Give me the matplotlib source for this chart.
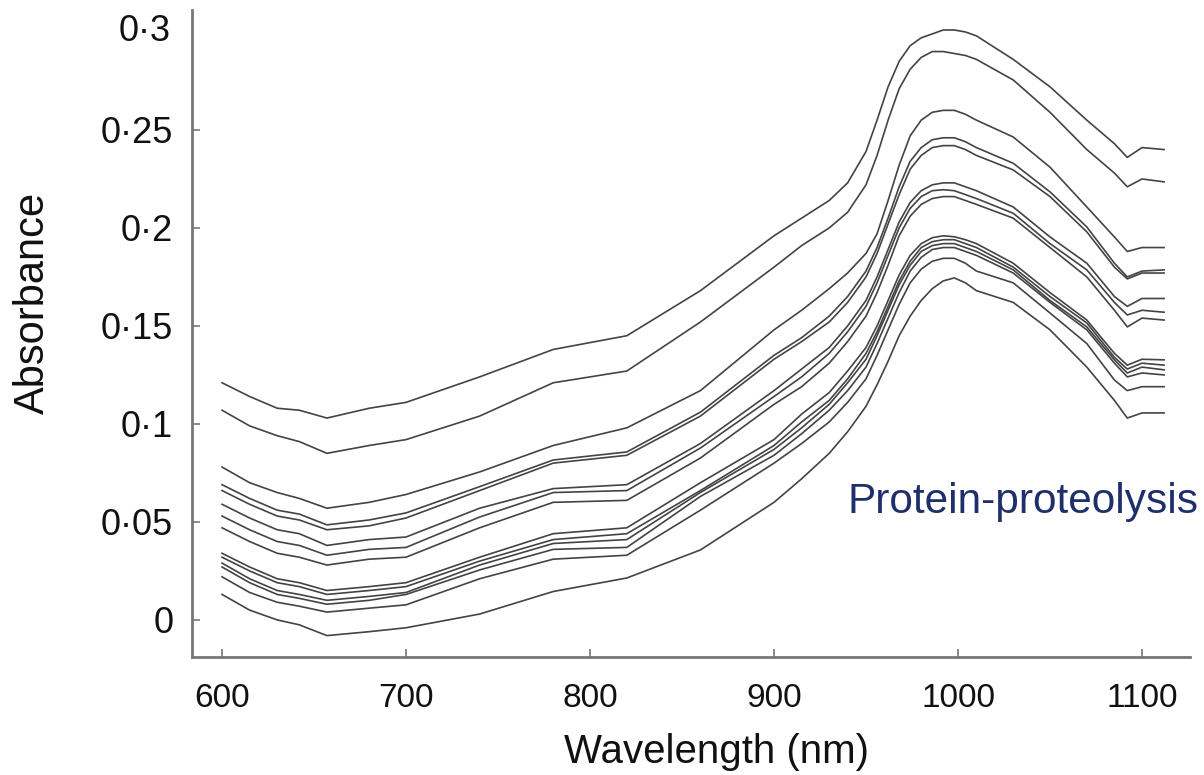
import matplotlib
matplotlib.use("Agg")
import matplotlib.pyplot as plt

plt.rcParams["font.family"] = ["Liberation Sans", "DejaVu Sans"]

# Wavelength grid (nm) at which each spectrum is sampled
wavelength = [600, 615, 630, 642, 657, 680, 700, 740, 780, 820, 860, 900, 915, 930,
              940, 950, 956, 962, 968, 974, 980, 986, 992, 998, 1004, 1010,
              1030, 1050, 1070, 1085, 1092, 1100, 1112]

# Absorbance spectra, top to bottom at 600 nm
s01 = [.121, .114, .108, .107, .103, .108, .111, .124, .138, .145, .168, .196, .205, .214,
       .223, .239, .255, .272, .285, .293, .297, .299, .301, .301, .300, .298,
       .286, .272, .255, .243, .236, .241, .240]
s02 = [.107, .099, .094, .091, .085, .089, .092, .104, .121, .127, .152, .180, .191, .200,
       .208, .222, .237, .255, .271, .281, .287, .290, .290, .289, .288, .286,
       .2755, .259, .240, .228, .221, .225, .2235]
s03 = [.078, .070, .065, .062, .057, .060, .064, .0755, .089, .098, .117, .148, .158, .169,
       .177, .187, .197, .214, .232, .247, .255, .259, .260, .260, .258, .255,
       .2464, .231, .2107, .1954, .188, .190, .190]
s04 = [.069, .062, .056, .054, .0485, .051, .0546, .068, .0816, .0857, .106, .135, .144, .155,
       .165, .178, .190, .205, .221, .234, .241, .245, .246, .246, .244, .241,
       .233, .2184, .2005, .182, .175, .178, .1786]
s05 = [.066, .059, .053, .051, .046, .048, .052, .066, .080, .084, .104, .133, .142, .152,
       .162, .175, .187, .202, .217, .230, .237, .241, .242, .242, .240, .237,
       .2296, .216, .198, .180, .174, .177, .177]
s06 = [.059, .052, .046, .044, .038, .041, .0423, .057, .067, .069, .090, .117, .128, .139,
       .150, .163, .175, .189, .203, .213, .219, .222, .223, .223, .221, .219,
       .2107, .1954, .182, .165, .160, .164, .164]
s07 = [.053, .046, .040, .038, .033, .036, .037, .0525, .065, .066, .0877, .114, .124, .136,
       .147, .160, .172, .186, .200, .210, .216, .219, .2195, .219, .217, .215,
       .2075, .192, .1786, .162, .1556, .158, .157]
s08 = [.047, .040, .034, .032, .028, .031, .032, .047, .060, .061, .0826, .110, .119, .131,
       .142, .155, .167, .181, .196, .206, .212, .215, .216, .216, .214, .212,
       .205, .190, .175, .158, .1495, .154, .153]
s09 = [.034, .027, .021, .019, .015, .017, .019, .032, .044, .047, .070, .092, .105, .116,
       .127, .139, .150, .163, .176, .186, .192, .195, .196, .1955, .194, .192,
       .182, .167, .153, .136, .130, .133, .1327]
s10 = [.032, .025, .019, .017, .013, .015, .017, .030, .041, .044, .066, .089, .101, .112,
       .123, .136, .147, .160, .173, .183, .190, .193, .194, .194, .192, .190,
       .180, .165, .1515, .134, .128, .131, .130]
s11 = [.029, .021, .015, .013, .010, .012, .014, .028, .039, .041, .065, .087, .098, .110,
       .121, .133, .145, .158, .171, .181, .188, .191, .192, .192, .190, .188,
       .1786, .163, .1495, .1327, .126, .129, .1276]
s12 = [.027, .019, .013, .011, .008, .010, .013, .0255, .036, .037, .063, .084, .095, .107,
       .117, .129, .141, .154, .167, .178, .185, .189, .190, .190, .188, .186,
       .177, .162, .148, .131, .124, .126, .125]
s13 = [.022, .014, .009, .007, .004, .006, .0077, .021, .031, .033, .056, .080, .090, .101,
       .111, .123, .135, .148, .161, .172, .179, .183, .1845, .1845, .182, .178,
       .172, .1566, .141, .1224, .117, .119, .119]
s14 = [.013, .005, .000, -.0025, -.008, -.006, -.004, .003, .0145, .0214, .0357, .060, .072, .085,
       .096, .109, .120, .132, .145, .155, .163, .169, .173, .1745, .172, .168,
       .162, .148, .129, .112, .103, .1056, .1056]

spectra = [s01, s02, s03, s04, s05, s06, s07, s08, s09, s10, s11, s12, s13, s14]

x_ticks = [600, 700, 800, 900, 1000, 1100]
y_ticks = [0, 0.05, 0.1, 0.15, 0.2, 0.25]
y_tick_labels = ["0", "0·05", "0·1", "0·15", "0·2", "0·25"]

fig = plt.figure(figsize=(12.04, 7.75), dpi=100)
ax = fig.add_axes([0.1595, 0.1523, 0.8289, 0.8348])

for spec in spectra:
    ax.plot(wavelength, spec, color="#2f2f2f", linewidth=1.2, alpha=0.9,
            solid_joinstyle="round")

ax.set_xlim(583.7, 1126.1)
ax.set_ylim(-0.0189, 0.3112)

ax.set_xticks(x_ticks)
ax.set_xticklabels([str(t) for t in x_ticks])
ax.set_yticks(y_ticks)
ax.set_yticklabels(y_tick_labels)
# top label without a tick mark
ax.text(-0.0217, 0.3, "0·3", transform=ax.get_yaxis_transform(),
        ha="right", va="center", fontsize=26, color="#111111")

for side in ("top", "right"):
    ax.spines[side].set_visible(False)
for side in ("left", "bottom"):
    ax.spines[side].set_color("#777777")
    ax.spines[side].set_linewidth(2.0)

ax.tick_params(direction="in", length=6, width=1.2, color="#777777",
               labelcolor="#111111")
ax.tick_params(axis="x", labelsize=24, pad=18.5)
ax.tick_params(axis="y", labelsize=26, pad=13.6)

ax.set_xlabel("Wavelength (nm)", fontsize=29, color="#111111", va="center")
ax.xaxis.set_label_coords(0.526, -0.147)
ax.set_ylabel("Absorbance", fontsize=30, color="#111111", va="center")
ax.yaxis.set_label_coords(-0.159, 0.547)

fig.text(848 / 1204, 1 - 502 / 775, "Protein-proteolysis", fontsize=30.5,
         color="#1f2f6b", ha="left", va="center")

fig.savefig("out.png", dpi=100)
